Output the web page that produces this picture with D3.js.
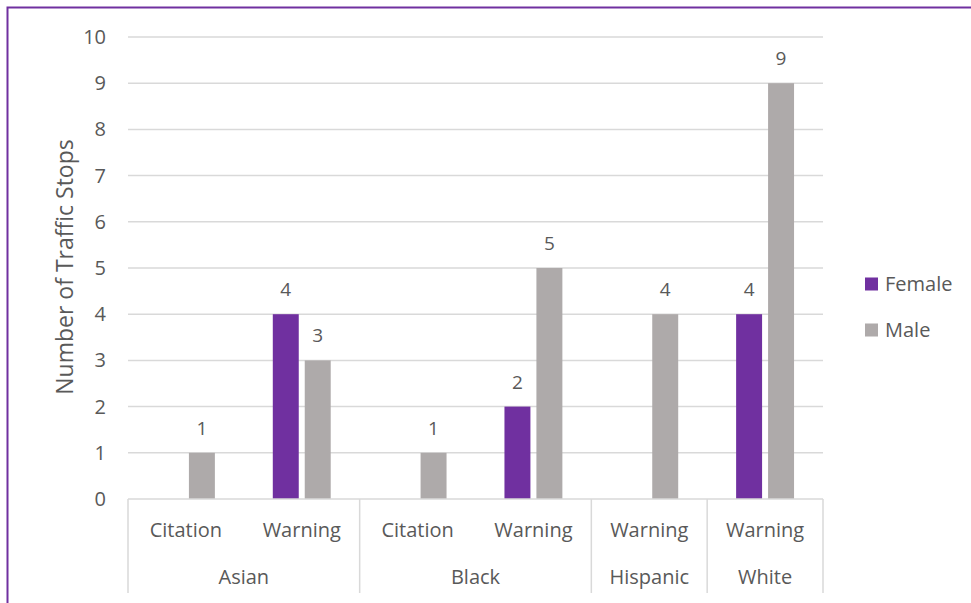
<!DOCTYPE html>
<html>
<head>
<meta charset="utf-8">
<script src="https://cdnjs.cloudflare.com/ajax/libs/d3/7.8.5/d3.min.js"></script>
<style>
  body { margin: 0; background: #fff; }
  text { font-family: "Open Sans", sans-serif; fill: #595959; }
</style>
</head>
<body>
<div id="chart"></div>
<script>
// leaf categories (outcome) and their race group
var outcomes = ["Citation", "Warning", "Citation", "Warning", "Warning", "Warning"];
var races = ["Asian", "Asian", "Black", "Black", "Hispanic", "White"];
var female = [null, 4, null, 2, null, 4];
var male = [1, 3, 1, 5, 4, 9];
var seriesNames = ["Female", "Male"];
var colors = ["#7030a0", "#aeaaaa"];
var yTicks = [0, 1, 2, 3, 4, 5, 6, 7, 8, 9, 10];

var W = 971, H = 603;
var plotLeft = 128, plotRight = 823, plotTop = 37, plotBottom = 499;

var svg = d3.select("#chart").append("svg")
    .attr("width", W)
    .attr("height", H);

// purple frame
svg.append("rect")
    .attr("x", 7.5).attr("y", 7.5)
    .attr("width", W + 20).attr("height", H + 20)
    .attr("fill", "none")
    .attr("stroke", "#7030a0")
    .attr("stroke-width", 2);

var idx = d3.range(outcomes.length);
var x0 = d3.scaleBand().domain(idx).range([plotLeft, plotRight])
    .paddingInner(0.5).paddingOuter(0.25);
var x1 = d3.scaleBand().domain(seriesNames).range([0, x0.bandwidth()])
    .paddingInner(0.1875);
var y = d3.scaleLinear().domain([0, 10]).range([plotBottom, plotTop]);

// gridlines
svg.append("g").selectAll("line")
    .data(yTicks.filter(function(d){ return d > 0; }))
    .enter().append("line")
    .attr("x1", plotLeft).attr("x2", plotRight)
    .attr("y1", function(d){ return y(d); })
    .attr("y2", function(d){ return y(d); })
    .attr("stroke", "#d9d9d9")
    .attr("stroke-width", 1.5);

// y tick labels
svg.append("g").selectAll("text")
    .data(yTicks)
    .enter().append("text")
    .attr("x", 106)
    .attr("y", function(d){ return y(d); })
    .attr("dy", "0.35em")
    .attr("text-anchor", "end")
    .attr("font-size", 20)
    .text(function(d){ return d; });

// y axis title
svg.append("text")
    .attr("transform", "translate(73,267) rotate(-90)")
    .attr("text-anchor", "middle")
    .attr("font-size", 23)
    .text("Number of Traffic Stops");

// bars
var rows = idx.map(function(i){
  return [{s: "Female", v: female[i], c: colors[0]}, {s: "Male", v: male[i], c: colors[1]}];
});
var grp = svg.append("g").selectAll("g")
    .data(rows)
    .enter().append("g")
    .attr("transform", function(d, i){ return "translate(" + x0(i) + ",0)"; });

grp.selectAll("rect")
    .data(function(d){ return d.filter(function(e){ return e.v != null; }); })
    .enter().append("rect")
    .attr("x", function(d){ return x1(d.s); })
    .attr("y", function(d){ return y(d.v); })
    .attr("width", x1.bandwidth())
    .attr("height", function(d){ return y(0) - y(d.v); })
    .attr("fill", function(d){ return d.c; });

grp.selectAll("text")
    .data(function(d){ return d.filter(function(e){ return e.v != null; }); })
    .enter().append("text")
    .attr("x", function(d){ return x1(d.s) + x1.bandwidth() / 2; })
    .attr("y", function(d){ return y(d.v) - 18; })
    .attr("text-anchor", "middle")
    .attr("font-size", 19)
    .text(function(d){ return d.v; });

// category axis: baseline + separators
var step = x0.step();
svg.append("line")
    .attr("x1", plotLeft).attr("x2", plotRight)
    .attr("y1", plotBottom).attr("y2", plotBottom)
    .attr("stroke", "#d9d9d9").attr("stroke-width", 1.5);

var groups = [];
races.forEach(function(r, i){
  var g = groups[groups.length - 1];
  if (g && g.name === r) g.end = i;
  else groups.push({name: r, start: i, end: i});
});

var seps = [plotLeft].concat(groups.map(function(g){ return plotLeft + (g.end + 1) * step; }));
svg.append("g").selectAll("line")
    .data(seps)
    .enter().append("line")
    .attr("x1", function(d){ return d; }).attr("x2", function(d){ return d; })
    .attr("y1", plotBottom).attr("y2", 593)
    .attr("stroke", "#d9d9d9").attr("stroke-width", 1.5);

svg.append("g").selectAll("text")
    .data(idx)
    .enter().append("text")
    .attr("x", function(i){ return x0(i) + x0.bandwidth() / 2; })
    .attr("y", 537)
    .attr("text-anchor", "middle")
    .attr("font-size", 20)
    .text(function(i){ return outcomes[i]; });

svg.append("g").selectAll("text")
    .data(groups)
    .enter().append("text")
    .attr("x", function(g){ return plotLeft + (g.start + g.end + 1) / 2 * step; })
    .attr("y", 584)
    .attr("text-anchor", "middle")
    .attr("font-size", 20)
    .text(function(g){ return g.name; });

// legend
var leg = svg.append("g").selectAll("g")
    .data(seriesNames)
    .enter().append("g")
    .attr("transform", function(d, i){ return "translate(865," + (284 + i * 46) + ")"; });
leg.append("rect")
    .attr("x", 0).attr("y", -6.5)
    .attr("width", 13).attr("height", 13)
    .attr("fill", function(d, i){ return colors[i]; });
leg.append("text")
    .attr("x", 20).attr("y", 0)
    .attr("dy", "0.35em")
    .attr("font-size", 20)
    .text(function(d){ return d; });
</script>
</body>
</html>
